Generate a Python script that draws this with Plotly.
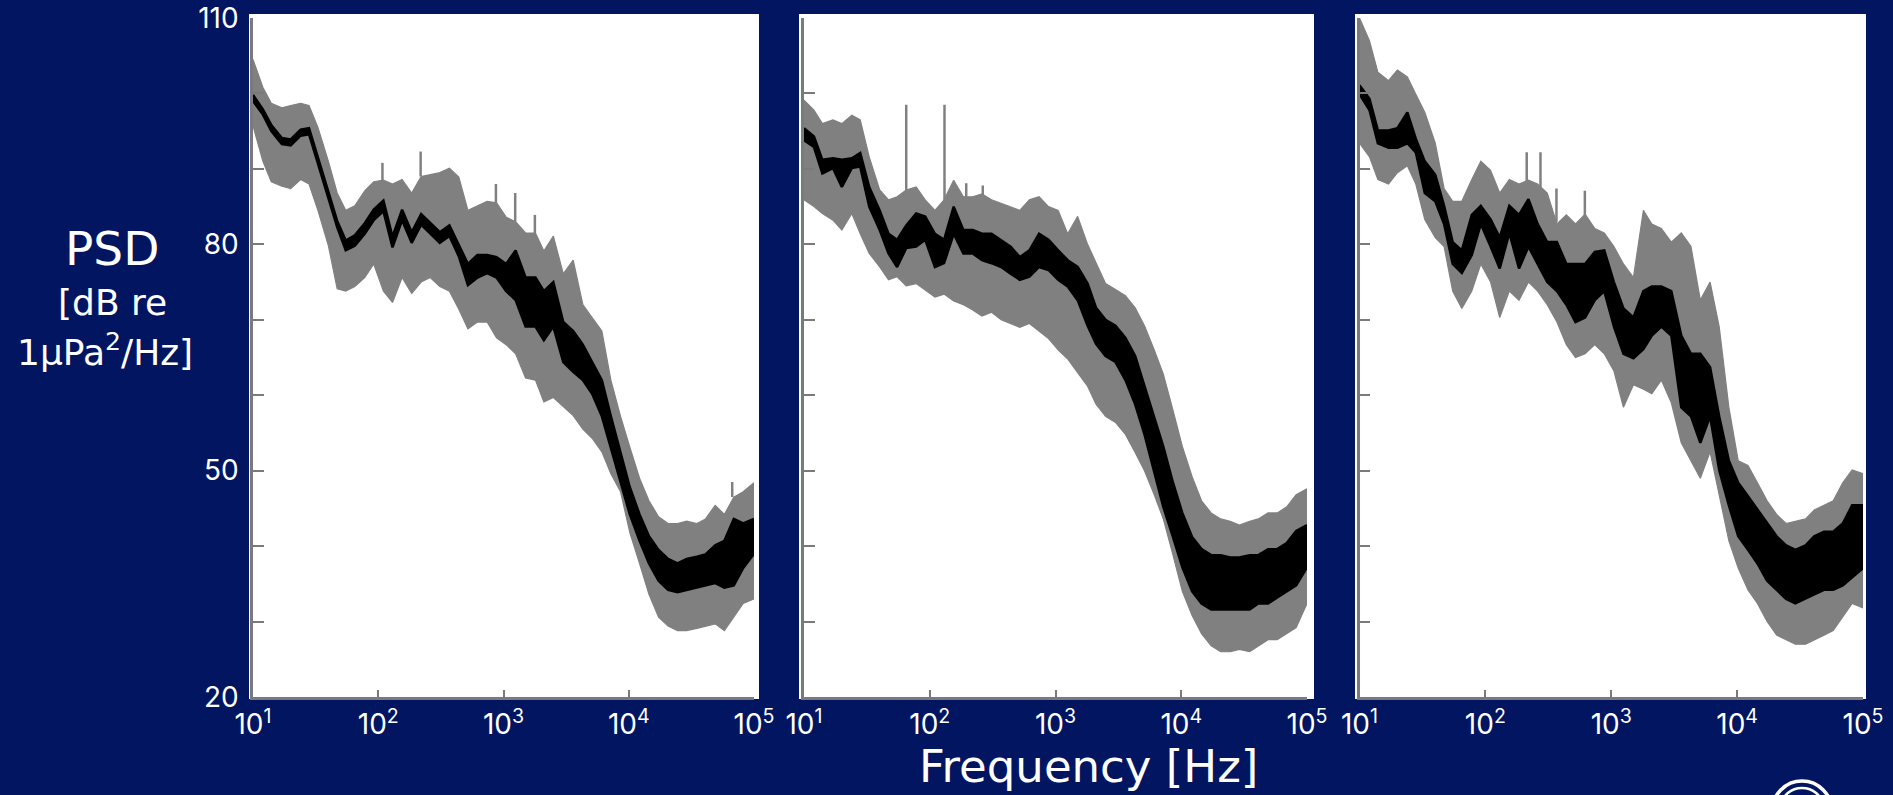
import plotly.graph_objects as go

# ---------------------------------------------------------------------------
# Power spectral density percentiles at three recording sites
# ---------------------------------------------------------------------------
freq_hz = [10, 12, 14, 17, 20, 24, 28, 33, 40, 47,
           55, 65, 78, 92, 110, 130, 155, 185, 220, 260,
           310, 370, 440, 520, 620, 740, 880, 1050, 1250, 1500,
           1800, 2100, 2500, 3000, 3600, 4300, 5100, 6100, 7200, 8600,
           10200, 12200, 14500, 17300, 20600, 24500, 29000, 35000, 41000, 49000,
           58000, 69000, 82000, 100000]

# Site 1: outer (grey) percentile envelope and inner (black) envelope, dB
site1_outer_hi = [104.5, 100.8, 98.7, 98.1, 98.4, 98.7, 98.4, 95.5, 91.0, 86.8,
                  84.5, 85.1, 87.1, 88.3, 88.5, 88.0, 88.6, 86.8, 89.0, 89.2,
                  89.5, 90.1, 88.9, 84.5, 85.1, 85.7, 85.5, 83.6, 83.0, 81.5,
                  81.5, 79.1, 81.1, 76.1, 77.9, 72.0, 70.3, 68.5, 62.0, 57.2,
                  53.1, 49.0, 46.0, 43.9, 43.0, 43.0, 43.3, 43.0, 43.6, 45.4,
                  44.2, 46.5, 47.2, 48.4]
site1_outer_lo = [95.7, 91.0, 88.3, 87.7, 87.4, 88.6, 88.0, 84.5, 79.8, 74.1,
                  73.8, 74.4, 75.6, 77.4, 73.8, 72.3, 75.6, 73.5, 75.0, 75.6,
                  74.4, 73.8, 71.4, 68.8, 69.7, 69.7, 67.6, 66.7, 65.5, 62.3,
                  62.0, 59.1, 59.7, 58.5, 57.3, 55.5, 54.3, 52.5, 49.6, 47.2,
                  41.8, 37.7, 33.6, 30.6, 29.4, 28.8, 28.8, 29.1, 29.4, 29.7,
                  28.8, 30.6, 32.4, 33.0]
site1_inner_hi = [99.8, 97.9, 95.8, 94.1, 93.9, 95.2, 95.4, 91.4, 86.7, 83.1,
                  80.5, 81.2, 82.8, 84.6, 85.8, 81.0, 84.6, 81.6, 84.0, 82.8,
                  81.6, 82.5, 80.0, 77.4, 78.6, 78.6, 78.3, 77.4, 79.2, 75.6,
                  75.6, 73.8, 75.0, 69.7, 68.5, 66.7, 64.4, 62.0, 57.2, 52.5,
                  47.8, 44.2, 41.3, 39.5, 38.3, 37.7, 38.3, 38.6, 38.9, 40.1,
                  40.7, 43.6, 43.0, 43.6]
site1_inner_lo = [99.0, 97.2, 95.0, 93.3, 93.1, 94.4, 94.6, 90.6, 85.9, 82.3,
                  79.2, 79.8, 81.4, 83.2, 84.4, 79.6, 83.2, 80.2, 82.6, 81.4,
                  80.2, 81.1, 78.4, 74.6, 75.6, 76.2, 75.6, 73.8, 72.6, 69.1,
                  69.1, 67.3, 69.1, 64.4, 63.1, 62.0, 60.2, 57.2, 53.1, 48.4,
                  44.2, 40.7, 37.7, 35.4, 34.2, 33.9, 34.2, 34.5, 34.8, 35.1,
                  34.5, 34.8, 37.1, 39.0]
site1_tone_hz = [108, 218, 870, 1240, 1780, 67000]
site1_tone_top = [90.8, 92.3, 88.0, 86.8, 83.9, 48.5]
site1_tone_base = [88.5, 89.0, 85.5, 83.0, 81.5, 46.5]

# Site 2
site2_outer_hi = [99.1, 97.8, 96.0, 96.5, 96.0, 97.1, 96.5, 91.6, 87.2, 85.9,
                  86.3, 87.2, 87.6, 85.9, 84.5, 85.9, 88.5, 86.3, 86.3, 86.7,
                  85.9, 85.4, 85.0, 84.5, 85.9, 86.3, 85.0, 84.5, 81.4, 83.7,
                  80.0, 77.5, 74.8, 74.0, 73.2, 71.6, 69.2, 66.0, 62.8, 58.0,
                  53.2, 49.2, 46.0, 44.4, 43.6, 43.3, 42.8, 43.3, 43.6, 44.4,
                  44.4, 45.2, 46.8, 47.6]
site2_outer_lo = [85.9, 85.0, 84.1, 83.2, 81.9, 84.1, 81.4, 78.8, 77.0, 75.3,
                  75.7, 74.5, 74.8, 73.9, 73.0, 73.4, 72.5, 72.0, 71.3, 70.5,
                  71.0, 70.0, 69.5, 69.0, 69.5, 68.5, 67.5, 66.0, 64.8, 63.0,
                  61.2, 58.8, 57.2, 56.4, 54.8, 52.4, 50.0, 46.8, 43.6, 38.8,
                  34.0, 30.8, 28.4, 26.8, 26.0, 26.0, 26.3, 26.0, 26.8, 27.6,
                  27.6, 28.4, 29.2, 32.4]
site2_inner_hi = [95.4, 94.3, 91.2, 91.4, 91.2, 91.4, 92.1, 87.6, 84.5, 81.4,
                  80.6, 82.5, 84.1, 83.7, 81.4, 80.6, 85.0, 81.9, 81.9, 81.4,
                  81.4, 80.6, 79.7, 78.3, 79.2, 81.4, 80.6, 79.2, 77.9, 77.0,
                  74.8, 71.6, 70.0, 69.2, 67.6, 65.2, 61.2, 57.2, 53.2, 48.4,
                  44.4, 41.2, 39.6, 38.8, 38.8, 38.5, 38.5, 38.8, 38.8, 39.6,
                  39.6, 40.4, 42.0, 42.8]
site2_inner_lo = [93.8, 92.9, 89.4, 90.1, 87.6, 90.1, 90.3, 85.0, 81.9, 78.8,
                  77.0, 79.5, 79.7, 80.6, 77.0, 77.5, 81.4, 78.8, 78.8, 77.9,
                  77.5, 77.0, 76.1, 75.3, 75.7, 77.0, 76.6, 75.3, 74.4, 72.6,
                  69.2, 66.8, 65.2, 64.4, 62.0, 58.8, 54.8, 50.0, 45.2, 41.2,
                  37.2, 34.0, 32.4, 31.6, 31.6, 31.6, 31.6, 31.6, 32.4, 32.4,
                  33.2, 34.0, 34.8, 37.2]
site2_tone_hz = [65, 131, 195, 264]
site2_tone_top = [98.5, 98.5, 88.1, 87.8]
site2_tone_base = [86.5, 85.5, 85.5, 85.5]

# Site 3
site3_outer_hi = [110.0, 107.0, 102.8, 101.7, 103.1, 102.2, 99.9, 97.5, 93.4, 87.4,
                  85.7, 85.7, 88.6, 91.0, 89.8, 86.8, 88.6, 88.0, 88.5, 88.0,
                  86.8, 82.7, 83.9, 82.7, 84.0, 82.1, 81.5, 79.7, 77.4, 75.6,
                  84.5, 82.7, 82.1, 80.3, 81.5, 79.7, 72.6, 75.0, 69.1, 58.4,
                  51.3, 50.7, 48.4, 46.0, 44.2, 43.0, 43.3, 43.6, 44.8, 45.4,
                  46.0, 48.4, 50.1, 49.6]
site3_outer_lo = [93.4, 91.6, 88.6, 88.0, 89.5, 90.4, 88.0, 83.3, 80.9, 79.7,
                  73.8, 71.5, 73.8, 77.4, 75.0, 70.3, 73.8, 72.6, 75.0, 73.8,
                  72.0, 69.7, 66.7, 65.0, 65.5, 66.7, 65.5, 63.2, 58.4, 61.4,
                  60.8, 60.2, 62.0, 59.0, 53.7, 51.3, 49.0, 52.5, 46.6, 40.7,
                  37.1, 34.2, 32.4, 30.0, 28.2, 27.6, 27.0, 27.0, 27.6, 28.2,
                  28.8, 30.6, 32.4, 31.8]
site3_inner_hi = [101.1, 99.3, 95.1, 95.1, 95.4, 97.5, 94.0, 91.0, 89.2, 85.1,
                  80.3, 79.2, 83.9, 85.1, 83.3, 80.9, 85.1, 83.9, 86.0, 82.7,
                  80.3, 80.3, 77.4, 77.4, 77.4, 79.0, 79.2, 75.0, 71.5, 70.3,
                  73.8, 74.4, 74.4, 73.8, 67.9, 65.5, 65.5, 63.7, 57.2, 51.3,
                  48.4, 46.6, 44.8, 43.0, 41.3, 40.1, 39.5, 40.1, 41.3, 41.9,
                  41.9, 43.0, 45.4, 45.4]
site3_inner_lo = [99.9, 97.8, 93.4, 92.8, 92.8, 93.4, 92.2, 86.8, 85.7, 82.7,
                  77.4, 76.2, 78.6, 82.7, 79.7, 76.8, 81.5, 76.8, 79.7, 77.4,
                  75.0, 73.8, 72.0, 69.7, 70.3, 72.6, 73.8, 69.1, 65.5, 64.9,
                  66.1, 67.9, 69.1, 67.9, 58.4, 57.2, 53.7, 57.2, 50.1, 45.4,
                  41.3, 39.5, 37.7, 35.4, 34.2, 33.0, 32.4, 33.0, 33.6, 34.2,
                  34.2, 34.8, 35.9, 37.1]
site3_tone_hz = [213, 274, 367, 617]
site3_tone_top = [92.2, 92.2, 87.4, 87.1]
site3_tone_base = [88.0, 87.5, 83.0, 83.5]

# Axis labelling
x_tick_vals = [10, 100, 1000, 10000, 100000]
x_tick_text = ["10<sup>1</sup>", "10<sup>2</sup>", "10<sup>3</sup>",
               "10<sup>4</sup>", "10<sup>5</sup>"]
y_tick_vals = [20, 30, 40, 50, 60, 70, 80, 90, 100, 110]
y_tick_text = ["20", "", "", "50", "", "", "80", "", "", "110"]

# ---------------------------------------------------------------------------
# Styling / geometry (pixels in a 1893 x 795 canvas)
# ---------------------------------------------------------------------------
W, H = 1893, 795
BG = "#011560"
GREY = "#808080"
AXIS_GREY = "#7a7a7a"
TICK_FONT = "Inter, 'Open Sans', sans-serif"
LABEL_FONT = "'DejaVu Sans', Inter, sans-serif"

axis_left = [253, 804, 1359.5]
axis_right = [754, 1307, 1863]
axis_top, axis_bottom = 18, 697
panel_lr = [(249, 759), (799, 1314), (1355, 1866)]
panel_top, panel_bottom = 14, 699


def fx(px):
    return px / W


def fy(py):
    return 1 - py / H


sites = [
    (site1_outer_hi, site1_outer_lo, site1_inner_hi, site1_inner_lo,
     site1_tone_hz, site1_tone_top, site1_tone_base),
    (site2_outer_hi, site2_outer_lo, site2_inner_hi, site2_inner_lo,
     site2_tone_hz, site2_tone_top, site2_tone_base),
    (site3_outer_hi, site3_outer_lo, site3_inner_hi, site3_inner_lo,
     site3_tone_hz, site3_tone_top, site3_tone_base),
]

fig = go.Figure()
layout_axes = {}
shapes = []

for i, (o_hi, o_lo, i_hi, i_lo, t_f, t_top, t_base) in enumerate(sites):
    n = "" if i == 0 else str(i + 1)
    xa, ya = "x" + n, "y" + n
    common = dict(xaxis=xa, yaxis=ya, showlegend=False, hoverinfo="skip")

    # grey percentile envelope
    fig.add_trace(go.Scatter(x=freq_hz, y=o_hi, mode="lines",
                             line=dict(color=GREY, width=1.2), **common))
    fig.add_trace(go.Scatter(x=freq_hz, y=o_lo, mode="lines", fill="tonexty",
                             fillcolor=GREY, line=dict(color=GREY, width=1.2),
                             **common))
    # narrow tonal lines rising above the envelope
    tx, ty = [], []
    for f, top, base in zip(t_f, t_top, t_base):
        tx += [f, f, None]
        ty += [base, top, None]
    fig.add_trace(go.Scatter(x=tx, y=ty, mode="lines",
                             line=dict(color=GREY, width=2.5), **common))
    # black inner band
    fig.add_trace(go.Scatter(x=freq_hz, y=i_hi, mode="lines",
                             line=dict(color="black", width=2.5), **common))
    fig.add_trace(go.Scatter(x=freq_hz, y=i_lo, mode="lines", fill="tonexty",
                             fillcolor="black", line=dict(color="black", width=2.5),
                             **common))

    layout_axes["xaxis" + n] = dict(
        type="log", range=[1, 5],
        domain=[fx(axis_left[i]), fx(axis_right[i])], anchor=ya,
        automargin=False,
        showline=True, linecolor=AXIS_GREY, linewidth=2.5,
        ticks="inside", ticklen=7, tickwidth=2, tickcolor=AXIS_GREY,
        tickvals=x_tick_vals, ticktext=x_tick_text,
        tickfont=dict(family=TICK_FONT, size=28, color="white"),
        ticklabelstandoff=1,
        showgrid=False, zeroline=False, fixedrange=True,
    )
    layout_axes["yaxis" + n] = dict(
        range=[20, 110],
        domain=[fy(axis_bottom), fy(axis_top)], anchor=xa,
        automargin=False,
        showline=True, linecolor=AXIS_GREY, linewidth=2.5,
        ticks="inside", ticklen=11, tickwidth=2, tickcolor=AXIS_GREY,
        tickvals=y_tick_vals, ticktext=y_tick_text,
        showticklabels=(i == 0),
        tickfont=dict(family=TICK_FONT, size=28, color="white"),
        ticklabelstandoff=6,
        showgrid=False, zeroline=False, fixedrange=True,
    )

    # white panel behind each plot
    x0, x1 = panel_lr[i]
    shapes.append(dict(type="rect", xref="paper", yref="paper",
                       x0=fx(x0), x1=fx(x1), y0=fy(panel_bottom), y1=fy(panel_top),
                       fillcolor="white", line=dict(width=0), layer="below"))

# emblem in the lower right corner
shapes.append(dict(type="circle", xref="paper", yref="paper",
                   x0=fx(1772), x1=fx(1832), y0=fy(842), y1=fy(781),
                   line=dict(color="white", width=3.5), fillcolor="rgba(0,0,0,0)"))
shapes.append(dict(type="circle", xref="paper", yref="paper",
                   x0=fx(1782), x1=fx(1822), y0=fy(822), y1=fy(788),
                   line=dict(color="white", width=2.5), fillcolor="rgba(0,0,0,0)"))

annotations = [
    dict(text="Frequency [Hz]", x=fx(1088), y=fy(766), xref="paper", yref="paper",
         xanchor="center", yanchor="middle", showarrow=False,
         font=dict(family=LABEL_FONT, size=45, color="white")),
    dict(text="PSD", x=fx(112), y=fy(249), xref="paper", yref="paper",
         xanchor="center", yanchor="middle", showarrow=False,
         font=dict(family=LABEL_FONT, size=47, color="white")),
    dict(text="[dB re", x=fx(112), y=fy(302), xref="paper", yref="paper",
         xanchor="center", yanchor="middle", showarrow=False,
         font=dict(family=LABEL_FONT, size=36, color="white")),
    dict(text="1μPa<sup>2</sup>/Hz]", x=fx(105), y=fy(350), xref="paper", yref="paper",
         xanchor="center", yanchor="middle", showarrow=False,
         font=dict(family=LABEL_FONT, size=36, color="white")),
]

fig.update_layout(
    template="none",
    width=W, height=H,
    margin=dict(l=0, r=0, t=0, b=0, pad=0, autoexpand=False),
    paper_bgcolor=BG, plot_bgcolor="rgba(0,0,0,0)",
    shapes=shapes, annotations=annotations,
    showlegend=False,
    **layout_axes,
)

fig.write_html("out.html", config={"displayModeBar": False})
